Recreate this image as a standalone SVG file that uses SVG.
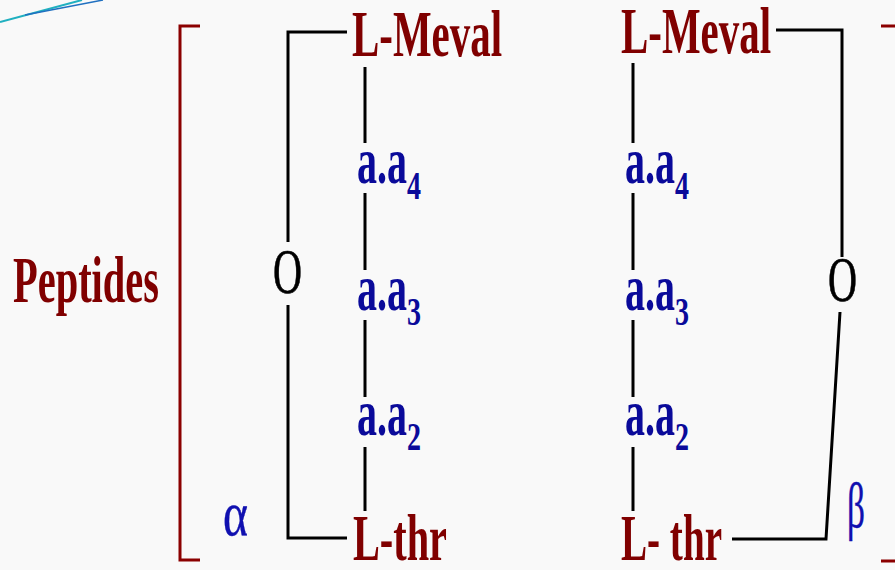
<svg xmlns="http://www.w3.org/2000/svg" width="895" height="570" viewBox="0 0 895 570">
  <style>
    .bg { fill: #f9f9f9; }
    .bracket { fill: none; stroke: #8b0000; stroke-width: 3; }
    .conn { fill: none; stroke: #000; stroke-width: 3; }
    .red { font-family: "Liberation Serif", "Times New Roman", serif; font-weight: bold; font-size: 65px; fill: #800000; }
    .oxy { font-family: "Liberation Serif", "Times New Roman", serif; font-size: 64px; fill: #000; stroke: #000; stroke-width: 0.7; }
    .aa { font-family: "Liberation Serif", "Times New Roman", serif; font-weight: bold; font-size: 65px; fill: #0a0a9a; }
    .sub { font-size: 40px; }
    .greek { font-family: "Liberation Serif", "DejaVu Serif", serif; font-size: 64px; fill: #1010b0; stroke: #1010b0; stroke-width: 0.4; }
  </style>
  <rect class="bg" x="0" y="0" width="895" height="570"/>

  <g id="decor">
    <line x1="0" y1="22" x2="82" y2="0" stroke="#20b0c0" stroke-width="2"/>
    <line x1="25" y1="15" x2="103" y2="0" stroke="#2070c0" stroke-width="1.5"/>
  </g>

  <g id="brackets">
    <path class="bracket" d="M200,26 H180 V560 H200"/>
    <path class="bracket" d="M881,26 H898 V561 H881"/>
  </g>

  <g id="connectors">
    <path class="conn" d="M347,32 H288 V242"/>
    <path class="conn" d="M288,305 V538 H347"/>
    <path class="conn" d="M776,30 H842 V257"/>
    <path class="conn" d="M840,312 L826,539 H732"/>
    <path class="conn" d="M365,67 V143 M365,193 V270 M365,320 V397 M365,447 V511"/>
    <path class="conn" d="M633,63 V143 M633,193 V270 M633,320 V397 M633,447 V511"/>
  </g>

  <g id="peptides"><text class="red" x="13" y="302" textLength="146" lengthAdjust="spacingAndGlyphs">Peptides</text></g>

  <g id="o-left"><text class="oxy" x="273" y="293" textLength="29" lengthAdjust="spacingAndGlyphs">O</text></g>
  <g id="o-right"><text class="oxy" x="828" y="301" textLength="29" lengthAdjust="spacingAndGlyphs">O</text></g>

  <g id="meval-left"><text class="red" x="352" y="56" textLength="150" lengthAdjust="spacingAndGlyphs">L-Meval</text></g>
  <g id="meval-right"><text class="red" x="621" y="53" textLength="150" lengthAdjust="spacingAndGlyphs">L-Meval</text></g>
  <g id="thr-left"><text class="red" x="353" y="560" textLength="94" lengthAdjust="spacingAndGlyphs">L-thr</text></g>
  <g id="thr-right"><text class="red" x="621" y="560" textLength="101" lengthAdjust="spacingAndGlyphs">L- thr</text></g>

  <g id="aa4-left"><text class="aa"><tspan x="357" y="183" textLength="50" lengthAdjust="spacingAndGlyphs">a.a</tspan><tspan class="sub" x="407" y="199" textLength="14" lengthAdjust="spacingAndGlyphs">4</tspan></text></g>
  <g id="aa3-left"><text class="aa"><tspan x="357" y="310" textLength="50" lengthAdjust="spacingAndGlyphs">a.a</tspan><tspan class="sub" x="407" y="325" textLength="14" lengthAdjust="spacingAndGlyphs">3</tspan></text></g>
  <g id="aa2-left"><text class="aa"><tspan x="357" y="435" textLength="50" lengthAdjust="spacingAndGlyphs">a.a</tspan><tspan class="sub" x="407" y="450" textLength="14" lengthAdjust="spacingAndGlyphs">2</tspan></text></g>

  <g id="aa4-right"><text class="aa"><tspan x="625" y="183" textLength="50" lengthAdjust="spacingAndGlyphs">a.a</tspan><tspan class="sub" x="675" y="199" textLength="14" lengthAdjust="spacingAndGlyphs">4</tspan></text></g>
  <g id="aa3-right"><text class="aa"><tspan x="625" y="310" textLength="50" lengthAdjust="spacingAndGlyphs">a.a</tspan><tspan class="sub" x="675" y="325" textLength="14" lengthAdjust="spacingAndGlyphs">3</tspan></text></g>
  <g id="aa2-right"><text class="aa"><tspan x="625" y="435" textLength="50" lengthAdjust="spacingAndGlyphs">a.a</tspan><tspan class="sub" x="675" y="450" textLength="14" lengthAdjust="spacingAndGlyphs">2</tspan></text></g>

  <g id="alpha"><text class="greek" x="223" y="535" textLength="25" lengthAdjust="spacingAndGlyphs">α</text></g>
  <g id="beta"><text class="greek" x="847" y="527" textLength="18" lengthAdjust="spacingAndGlyphs">β</text></g>
</svg>
